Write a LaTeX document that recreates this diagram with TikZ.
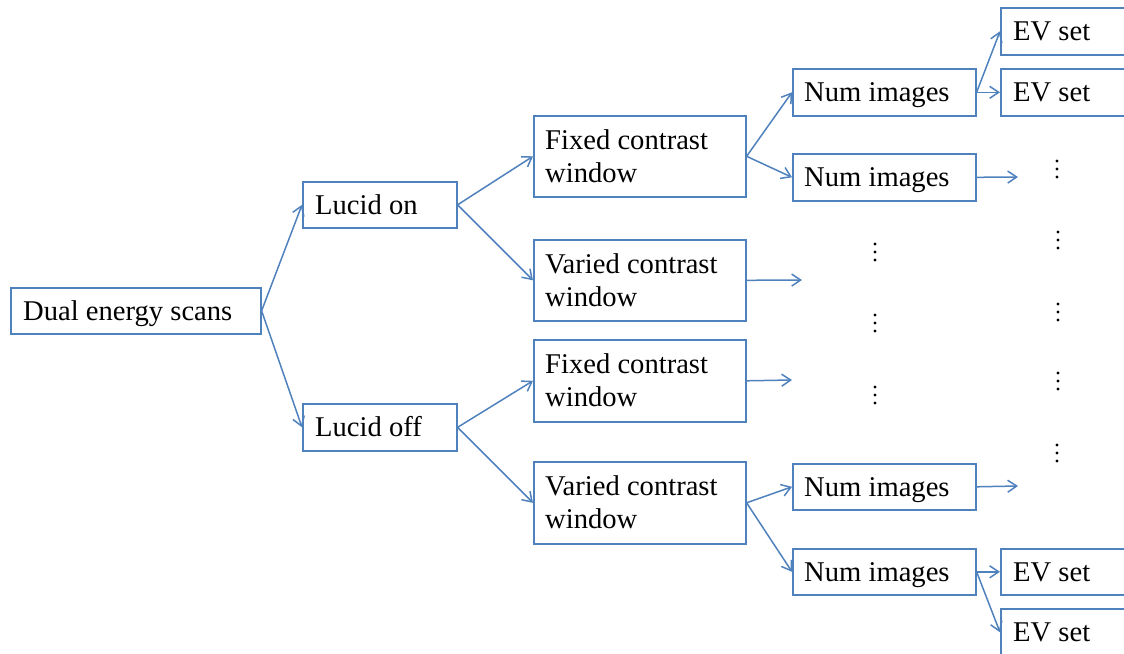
\documentclass[tikz,border=0pt]{standalone}
\usepackage{fontspec}
\setmainfont{Liberation Serif}
\usetikzlibrary{arrows.meta,calc}
\definecolor{boxblue}{RGB}{79,129,189}
\tikzset{
  box/.style={draw=boxblue, line width=1.6pt, inner sep=0pt, anchor=north west},
  txt/.style={inner sep=0pt, anchor=base west, font=\fontsize{28.6pt}{33pt}\selectfont},
  conn/.style={draw=boxblue, line width=1.5pt, -{Straight Barb[length=9pt,width=12pt]}},
  dotmark/.style={fill=black},
}
\begin{document}
\begin{tikzpicture}[x=1pt,y=-1pt]
\useasboundingbox (0,0) rectangle (1124,653);
\clip (0,0) rectangle (1124,653);
% boxes
\node[box, minimum width=250pt, minimum height=46pt] (dual) at (10,287) {};
\node[box, minimum width=154pt, minimum height=46pt] (lon) at (302,181) {};
\node[box, minimum width=154pt, minimum height=47pt] (loff) at (302,403) {};
\node[box, minimum width=212pt, minimum height=81pt] (fix1) at (533,115) {};
\node[box, minimum width=212pt, minimum height=81pt] (var1) at (533,239) {};
\node[box, minimum width=212pt, minimum height=82pt] (fix2) at (533,339) {};
\node[box, minimum width=212pt, minimum height=82pt] (var2) at (533,461) {};
\node[box, minimum width=183pt, minimum height=47pt] (num1) at (792,68) {};
\node[box, minimum width=183pt, minimum height=47pt] (num2) at (792,153) {};
\node[box, minimum width=183pt, minimum height=46pt] (num3) at (792,463) {};
\node[box, minimum width=183pt, minimum height=46pt] (num4) at (792,548) {};
\node[box, minimum width=140pt, minimum height=47pt] (ev1) at (1000,7) {};
\node[box, minimum width=140pt, minimum height=47pt] (ev2) at (1000,68) {};
\node[box, minimum width=140pt, minimum height=46pt] (ev3) at (1000,548) {};
\node[box, minimum width=140pt, minimum height=47pt] (ev4) at (1000,608) {};
% texts
\node[txt] (dualt) at ($(dual.west)+(13,9.5)$) {Dual energy scans};
\node[txt] (lont) at ($(lon.west)+(13,9.5)$) {Lucid on};
\node[txt] (lofft) at ($(loff.west)+(13,9.5)$) {Lucid off};
\node[txt] (fix1a) at ($(fix1.west)+(12,-7)$) {Fixed contrast};
\node[txt] (fix1b) at ($(fix1.west)+(12,26)$) {window};
\node[txt] (var1a) at ($(var1.west)+(12,-7)$) {Varied contrast};
\node[txt] (var1b) at ($(var1.west)+(12,26)$) {window};
\node[txt] (fix2a) at ($(fix2.west)+(12,-7)$) {Fixed contrast};
\node[txt] (fix2b) at ($(fix2.west)+(12,26)$) {window};
\node[txt] (var2a) at ($(var2.west)+(12,-7)$) {Varied contrast};
\node[txt] (var2b) at ($(var2.west)+(12,26)$) {window};
\foreach \n in {num1,num2,num3,num4}{
  \node[txt] (\n t) at ($(\n.west)+(12,9.5)$) {Num images};
}
\foreach \n in {ev1,ev2,ev3,ev4}{
  \node[txt] (\n t) at ($(\n.west)+(13,9.5)$) {EV set};
}
% free ends
\coordinate (e1) at (802,280);
\coordinate (e2) at (792,380);
\coordinate (e3) at (1018,177);
\coordinate (e4) at (1018,486);
% connectors
\draw[conn] (dual.east) -- (lon.west);
\draw[conn] (dual.east) -- (loff.west);
\draw[conn] (lon.east) -- (fix1.west);
\draw[conn] (lon.east) -- (var1.west);
\draw[conn] (loff.east) -- (fix2.west);
\draw[conn] (loff.east) -- (var2.west);
\draw[conn] (fix1.east) -- (num1.west);
\draw[conn] (fix1.east) -- (num2.west);
\draw[conn] (var2.east) -- (num3.west);
\draw[conn] (var2.east) -- (num4.west);
\draw[conn] (num1.east) -- (ev1.west);
\draw[conn] (num1.east) -- (ev2.west);
\draw[conn] (num4.east) -- (ev3.west);
\draw[conn] (num4.east) -- (ev4.west);
\draw[conn] (var1.east) -- (e1);
\draw[conn] (fix2.east) -- (e2);
\draw[conn] (num2.east) -- (e3);
\draw[conn] (num3.east) -- (e4);
% vertical dots
\foreach \x/\y in {875/252, 875/323, 875/395, 1057/169, 1058/240, 1058/312, 1058/381, 1057/453}{
  \foreach \d in {-8,0,8}{
    \fill[dotmark] (\x,\y+\d) circle (1.6pt);
  }
}
\end{tikzpicture}
\end{document}
